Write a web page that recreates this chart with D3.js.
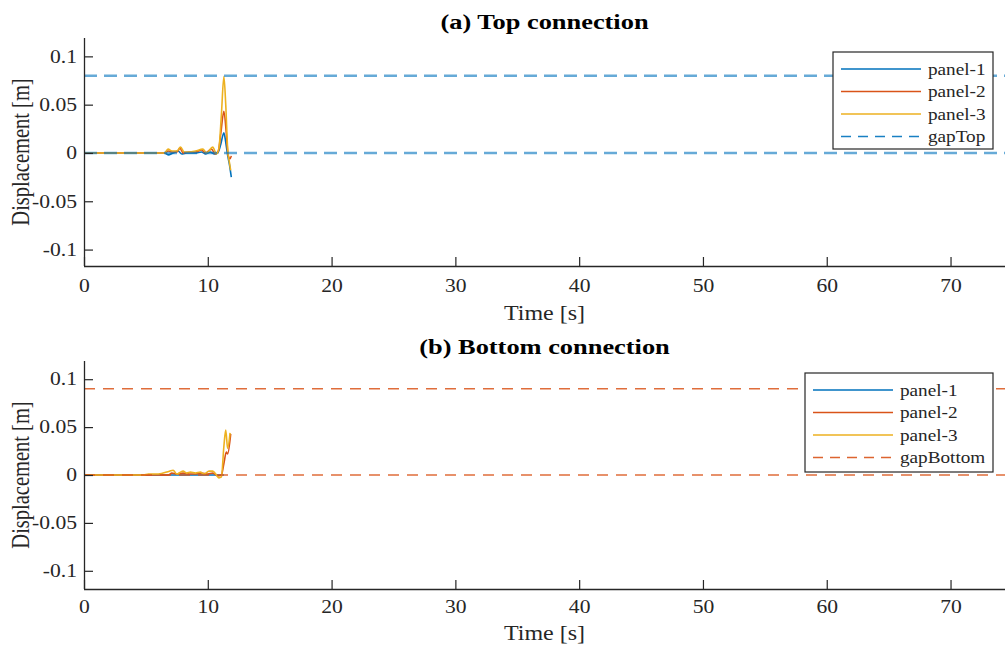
<!DOCTYPE html>
<html><head><meta charset="utf-8">
<script src="https://cdn.jsdelivr.net/npm/d3@7"></script>
<style>
html,body{margin:0;padding:0;background:#fff;}
svg{display:block;}
svg text{font-family:"Liberation Serif","Times New Roman",serif;}
</style></head>
<body><svg id="c" width="1005" height="646"></svg>
<script>
// ---------- DATA ----------
const xTicks = [0,10,20,30,40,50,60,70];
const yTicks = [-0.1,-0.05,0,0.05,0.1];
const yTickLabels = ["-0.1","-0.05","0","0.05","0.1"];
const seriesNames = ["panel-1","panel-2","panel-3"];
const seriesColors = ["#0072BD","#D95319","#EDB120"];

// Top connection
const topP1 = [[0,0],[6.5,0],[6.8,-0.002],[7.2,0],[7.6,0.002],[7.9,-0.001],[8.3,0],[9.0,0],[9.5,0.001],[9.8,-0.001],[10.2,0.001],[10.5,-0.001],[10.8,0],[11.05,0.009],[11.3,0.021],[11.45,0.011],[11.6,-0.002],[11.75,-0.012],[11.9,-0.025]];
const topP2 = [[0,0],[6.5,0],[6.8,0.002],[7.1,0.001],[7.5,0.001],[7.75,0.005],[8.0,0],[8.5,0.001],[9.0,0.001],[9.5,0.003],[9.8,0],[10.3,0.004],[10.6,-0.001],[10.85,0.002],[11.05,0.02],[11.3,0.043],[11.5,0.02],[11.65,-0.003],[11.8,-0.006],[11.9,-0.003]];
const topP3 = [[0,0],[6.5,0],[6.8,0.004],[7.1,0.002],[7.5,0.002],[7.8,0.006],[8.1,0.001],[8.5,0.001],[9.0,0.002],[9.6,0.004],[9.9,0],[10.4,0.006],[10.7,-0.001],[10.9,0.005],[11.1,0.04],[11.3,0.079],[11.45,0.05],[11.6,0.005],[11.75,-0.01],[11.85,-0.018]];
const gapTop = [0.08, 0];

// Bottom connection
const botP1 = [[0,0],[11.3,0]];
const botP2 = [[0,0],[6.8,0],[7.1,0.002],[7.5,0.001],[8.0,0.002],[8.5,0.001],[9.0,0.001],[9.5,0.002],[10.0,0.001],[10.4,0.002],[10.8,-0.001],[11.1,0],[11.3,0.012],[11.5,0.024],[11.6,0.022],[11.85,0.043]];
const botP3 = [[0,0],[4.8,0],[5.2,0.001],[6.0,0.001],[6.9,0.004],[7.2,0.005],[7.5,0.001],[7.8,0.003],[8.0,0.004],[8.3,0.002],[8.6,0.003],[9.0,0.002],[9.4,0.003],[9.7,0.001],[10.1,0.004],[10.4,0.004],[10.7,0],[10.9,-0.003],[11.1,-0.002],[11.3,0.03],[11.45,0.047],[11.6,0.028],[11.8,0.044]];
const gapBottom = [0.09, 0];

// ---------- DRAW ----------
const svg = d3.select("#c");
const axisColor = "#262626";
const serif = "'Liberation Serif','Times New Roman',serif";
const SX = 1.2; // horizontal stretch of the original figure's text

function stext(parent, x, y, size, str){
  return parent.append("text").attr("transform",`translate(${x},${y}) scale(${SX},1)`)
    .style("font-size",size+"px").text(str);
}

function panel(cfg){
  const x = d3.scaleLinear().domain([0,74.4]).range([84,1005]);
  const y = d3.scaleLinear().domain(cfg.ydom).range(cfg.yrange);
  const g = svg.append("g");
  const clipId = "clip"+cfg.id;
  svg.append("clipPath").attr("id",clipId).append("rect")
     .attr("x",84).attr("y",cfg.yrange[1]).attr("width",921).attr("height",cfg.yrange[0]-cfg.yrange[1]);
  const data = g.append("g").attr("clip-path","url(#"+clipId+")");
  const line = d3.line().x(d=>x(d[0])).y(d=>y(d[1])).curve(d3.curveMonotoneX);
  cfg.series.forEach((s,i)=>{
    data.append("path").attr("d",line(s)).attr("fill","none")
      .attr("stroke",seriesColors[i]).attr("stroke-width",1.6).attr("stroke-linejoin","round");
  });
  cfg.gap.forEach(v=>{
    data.append("line").attr("x1",84).attr("x2",1005).attr("y1",y(v)).attr("y2",y(v))
      .attr("stroke",cfg.gapColor).attr("stroke-opacity",cfg.gapOpacity)
      .attr("stroke-width",cfg.gapWidth).attr("stroke-dasharray",cfg.gapDash);
  });
  // axes
  const xAxis = d3.axisBottom(x).tickValues(xTicks).tickSizeInner(-9).tickSizeOuter(0).tickPadding(cfg.xPad);
  const gx = g.append("g").attr("transform",`translate(0,${cfg.yrange[0]})`).call(xAxis);
  const yAxis = d3.axisLeft(y).tickValues(yTicks).tickFormat((d,i)=>yTickLabels[i]).tickSizeInner(-9).tickSizeOuter(0).tickPadding(7);
  const gy = g.append("g").attr("transform","translate(84,0)").call(yAxis);
  [gx,gy].forEach(a=>{
    a.attr("font-family",serif).attr("font-size",18);
    a.select(".domain").attr("stroke",axisColor).attr("stroke-width",1.3);
    a.selectAll(".tick line").attr("stroke",axisColor).attr("stroke-width",1.2);
    a.selectAll(".tick text").attr("fill",axisColor).style("font-size","18px")
      .attr("transform",`scale(${SX},1)`);
  });
  gy.selectAll(".tick text").attr("x",-7/SX);
  gx.select(".domain").attr("d",`M84,0.5H1005`);
  gy.select(".domain").attr("d",`M0.5,${cfg.yrange[0]}V${cfg.yrange[1]}`);
  // labels
  stext(g,544.5,cfg.titleY,22,cfg.title).attr("text-anchor","middle")
    .style("font-weight","bold").attr("fill","#000");
  stext(g,544.5,cfg.xlabY,20,"Time [s]").attr("text-anchor","middle").attr("fill",axisColor);
  const my = (cfg.yrange[0]+cfg.yrange[1])/2;
  g.append("text").attr("transform",`translate(29,${my}) rotate(-90) scale(1,${SX})`).attr("text-anchor","middle")
    .style("font-size","20.5px").attr("fill",axisColor).text("Displacement [m]");
  // legend
  const L = cfg.legend;
  const lg = g.append("g");
  lg.append("rect").attr("x",L.x).attr("y",L.y).attr("width",L.w).attr("height",L.h)
    .attr("fill","#fff").attr("stroke",axisColor).attr("stroke-width",1.2);
  const names = seriesNames.concat([cfg.gapName]);
  names.forEach((n,i)=>{
    const yy = L.y + 17 + i*22.5;
    const ln = lg.append("line").attr("x1",L.x+8).attr("x2",L.x+88).attr("y1",yy).attr("y2",yy);
    if(i<3){ ln.attr("stroke",seriesColors[i]).attr("stroke-width",1.3); }
    else { ln.attr("stroke",cfg.gapColor).attr("stroke-width",1.5).attr("stroke-opacity",0.9).attr("stroke-dasharray","10,7"); }
    stext(lg,L.x+95,yy+5.5,16,n).attr("fill",axisColor);
  });
}

panel({id:"a", ydom:[-0.117,0.119], yrange:[266,38], series:[topP1,topP2,topP3], gap:gapTop,
  gapColor:"#0072BD", gapOpacity:0.6, gapWidth:2.5, gapDash:"13,7", gapName:"gapTop",
  title:"(a) Top connection", titleY:29, xlabY:320, xPad:13,
  legend:{x:833,y:52,w:160,h:97}});
panel({id:"b", ydom:[-0.119,0.119], yrange:[589,361], series:[botP1,botP2,botP3], gap:gapBottom,
  gapColor:"#D95319", gapOpacity:0.85, gapWidth:1.5, gapDash:"11,8", gapName:"gapBottom",
  title:"(b) Bottom connection", titleY:354, xlabY:640, xPad:11,
  legend:{x:805,y:373,w:188,h:99}});
</script></body></html>
